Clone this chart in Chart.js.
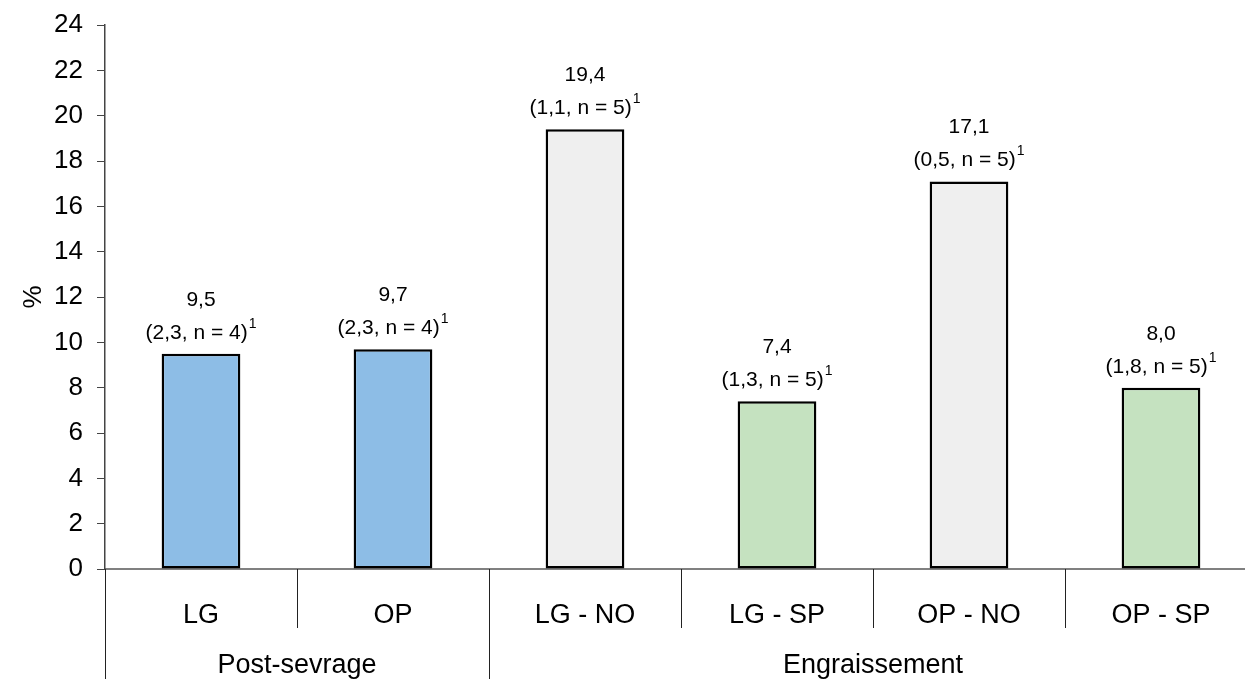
<!DOCTYPE html>
<html>
<head>
<meta charset="utf-8">
<script src="https://cdn.jsdelivr.net/npm/chart.js@4.4.1/dist/chart.umd.min.js"></script>
<style>
  html, body { margin: 0; padding: 0; background: #fff; overflow: hidden; }
  #wrap { width: 1257px; height: 679px; position: relative; }
</style>
</head>
<body>
<div id="wrap"><canvas id="chart"></canvas></div>
<script>
var categories = ['LG', 'OP', 'LG - NO', 'LG - SP', 'OP - NO', 'OP - SP'];
var groups = ['Post-sevrage', 'Engraissement'];
var groupSizes = [2, 4];
var values = [9.5, 9.7, 19.4, 7.4, 17.1, 8.0];
var stdErrors = [2.3, 2.3, 1.1, 1.3, 0.5, 1.8];
var counts = [4, 4, 5, 5, 5, 5];
var barColors = ['#8dbde6', '#8dbde6', '#efefef', '#c5e2c0', '#efefef', '#c5e2c0'];
var yTicks = [0, 2, 4, 6, 8, 10, 12, 14, 16, 18, 20, 22, 24];

var FONT = '"Liberation Sans", Arial, sans-serif';

function fmt(v) {
  return v.toFixed(1).replace('.', ',');
}

// value + "(se, n = x)¹" above each bar
var barLabels = {
  id: 'barLabels',
  afterDatasetsDraw: function (chart) {
    var ctx = chart.ctx;
    var meta = chart.getDatasetMeta(0);
    ctx.save();
    ctx.fillStyle = '#000';
    ctx.textBaseline = 'alphabetic';
    meta.data.forEach(function (bar, i) {
      var top = bar.y;
      ctx.font = '21px ' + FONT;
      ctx.textAlign = 'center';
      ctx.fillText(fmt(values[i]), bar.x, top - 48);

      var line = '(' + fmt(stdErrors[i]) + ', n = ' + counts[i] + ')';
      var w = ctx.measureText(line).width;
      ctx.font = '14px ' + FONT;
      var sw = ctx.measureText('1').width;
      var left = bar.x - (w + sw + 1) / 2;
      ctx.textAlign = 'left';
      ctx.font = '21px ' + FONT;
      ctx.fillText(line, left, top - 15);
      ctx.font = '14px ' + FONT;
      ctx.fillText('1', left + w + 1, top - 26);
    });
    ctx.restore();
  }
};

// two-level category axis with separators
var groupAxis = {
  id: 'groupAxis',
  afterDraw: function (chart) {
    var ctx = chart.ctx;
    var x = chart.scales.x;
    var y0 = chart.scales.y.getPixelForValue(0);
    var bottom = chart.height;
    var half = (x.getPixelForValue(1) - x.getPixelForValue(0)) / 2;
    ctx.save();
    ctx.strokeStyle = '#222';
    ctx.lineWidth = 1;

    var groupStarts = [];
    var idx = 0;
    groupSizes.forEach(function (n) { groupStarts.push(idx); idx += n; });

    for (var i = 0; i <= categories.length; i++) {
      var px = Math.round(x.getPixelForValue(i) - half) + 0.5;
      var long = groupStarts.indexOf(i) >= 0 || i === categories.length;
      ctx.beginPath();
      ctx.moveTo(px, y0);
      ctx.lineTo(px, long ? bottom : y0 + 59);
      ctx.stroke();
    }

    ctx.fillStyle = '#000';
    ctx.font = '27px ' + FONT;
    ctx.textAlign = 'center';
    ctx.textBaseline = 'middle';
    categories.forEach(function (c, i) {
      ctx.fillText(c, x.getPixelForValue(i), y0 + 47);
    });
    groupStarts.forEach(function (s, g) {
      var a = x.getPixelForValue(s) - half;
      var b = x.getPixelForValue(s + groupSizes[g] - 1) + half;
      ctx.fillText(groups[g], (a + b) / 2, y0 + 97);
    });
    ctx.restore();
  }
};

new Chart(document.getElementById('chart'), {
  type: 'bar',
  data: {
    labels: categories,
    datasets: [{
      data: values,
      backgroundColor: barColors,
      borderColor: '#000',
      borderWidth: 2.5,
      borderSkipped: false,
      categoryPercentage: 1,
      barPercentage: 0.41
    }]
  },
  options: {
    responsive: true,
    maintainAspectRatio: false,
    animation: false,
    layout: { padding: { top: 25, right: 0, left: 0, bottom: 0 } },
    plugins: {
      legend: { display: false },
      tooltip: { enabled: false }
    },
    scales: {
      x: {
        grid: { display: false },
        border: { display: true, color: '#808080', width: 2 },
        ticks: { display: false },
        afterFit: function (scale) { scale.height = 110; }
      },
      y: {
        min: 0,
        max: 24,
        afterBuildTicks: function (scale) {
          scale.ticks = yTicks.map(function (v) { return { value: v }; });
        },
        grid: {
          drawOnChartArea: false,
          drawTicks: true,
          tickLength: 8,
          color: '#444'
        },
        border: { display: true, color: '#444', width: 1.5 },
        ticks: {
          color: '#000',
          padding: 14,
          font: { family: FONT, size: 26 }
        },
        title: {
          display: true,
          text: '%',
          color: '#000',
          padding: { top: 18, bottom: 0 },
          font: { family: FONT, size: 26 }
        },
        afterFit: function (scale) {
          scale.width = 105;
          scale.paddingTop = 0;
          scale.paddingBottom = 0;
        }
      }
    }
  },
  plugins: [barLabels, groupAxis]
});
</script>
</body>
</html>
